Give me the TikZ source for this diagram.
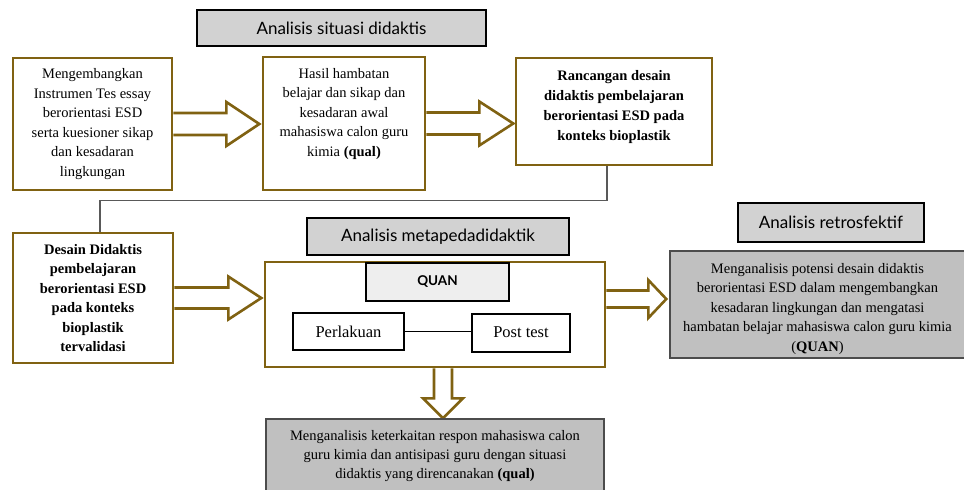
\documentclass[tikz,border=0pt]{standalone}
\usepackage{fontspec}
\setmainfont{Liberation Serif}
\newfontfamily\titlefont{Lato}
\usetikzlibrary{backgrounds}

\definecolor{goldline}{RGB}{128,98,18}
\definecolor{titlegray}{RGB}{210,210,210}
\definecolor{boxgray}{RGB}{192,192,192}
\definecolor{quangray}{RGB}{238,238,238}

% block arrows: start, body length, head length, body half, head half
\newcommand{\harrow}[5]{%
	\draw[blockarr] ([yshift=#4pt]#1) -- ++(#2,0) -- ++(0,#4-#5) -- ++(#3,#5)
	-- ++(-#3,#5) -- ++(0,#4-#5) -- ++(-#2,0);}
\newcommand{\varrow}[5]{%
	\draw[blockarr] ([xshift=-#4pt]#1) -- ++(0,#2) -- ++(#4-#5,0) -- ++(#5,#3)
	-- ++(#5,-#3) -- ++(#4-#5,0) -- ++(0,-#2);}

\begin{document}
\begin{tikzpicture}[x=1pt, y=-1pt,
	goldbox/.style={draw=goldline, line width=2.6pt, fill=white, align=center,
		inner sep=0pt, font=\fontsize{14.5}{19.5}\selectfont},
	titlebox/.style={draw=black, line width=2.6pt, fill=titlegray, inner sep=0pt,
		font=\titlefont\fontsize{17}{20}\selectfont},
	graybox/.style={draw=black!70, line width=1.4pt, fill=boxgray, align=center,
		inner sep=0pt, font=\fontsize{14.5}{19.5}\selectfont},
	smallbox/.style={draw=black, line width=2pt, fill=white, inner sep=0pt,
		font=\fontsize{16.5}{19}\selectfont},
	blockarr/.style={draw=goldline, line width=2.6pt, fill=white, line join=miter},
	linkline/.style={draw=black!65, line width=1.3pt}]
	\useasboundingbox (0,0) rectangle (964,490);
	
	% tahap 1
	\node[titlebox, minimum width=289, minimum height=36] (T1) at (341.5,28) {Analisis situasi didaktis};
	\node[goldbox, minimum width=159, minimum height=132] (A) at (92.5,124)
	{Mengembangkan\\ Instrumen Tes essay\\ berorientasi ESD\\ serta kuesioner sikap\\ dan kesadaran\\ lingkungan};
	\node[goldbox, minimum width=162, minimum height=133] (B) at (344,123.5)
	{Hasil hambatan\\ belajar dan sikap dan\\ kesadaran awal\\ mahasiswa calon guru\\ kimia \textbf{(qual)}\\[3pt]};
	\node[goldbox, minimum width=196, minimum height=107, font=\fontsize{14.5}{20}\selectfont\bfseries] (C) at (614,111.5)
	{Rancangan desain\\ didaktis pembelajaran\\ berorientasi ESD pada\\ konteks bioplastik\\[-7pt]};
	
	% tahap 2
	\node[goldbox, minimum width=160, minimum height=130, font=\fontsize{14.5}{19.5}\selectfont\bfseries] (D) at (93,298)
	{Desain Didaktis\\ pembelajaran\\ berorientasi ESD\\ pada konteks\\ bioplastik\\ tervalidasi};
	\node[titlebox, minimum width=262, minimum height=37] (T2) at (438,236.5) {Analisis metapedadidaktik};
	\node[goldbox, minimum width=340, minimum height=105] (E) at (435,314.5) {};
	\node[smallbox, fill=quangray, minimum width=143, minimum height=38,
	font=\titlefont\bfseries\fontsize{13.5}{15}\selectfont] (quan) at (437.5,282) {QUAN};
	\node[smallbox, minimum width=111, minimum height=37] (perl) at (348.5,331.5) {Perlakuan};
	\node[smallbox, minimum width=98, minimum height=38] (post) at (521,332.5) {Post test};
	\draw[line width=1pt] (perl.east) -- (perl.east -| post.west);
	
	% tahap 3
	\node[titlebox, minimum width=186, minimum height=39] (T3) at (831,222.5) {Analisis retrosfektif};
	\node[graybox, minimum width=295, minimum height=107] (F) at (817.5,304.5)
	{\rule{0pt}{19pt}Menganalisis potensi desain didaktis\\ berorientasi ESD dalam mengembangkan\\ kesadaran lingkungan dan mengatasi\\ hambatan belajar mahasiswa calon guru kimia\\ (\textbf{QUAN})};
	\node[graybox, minimum width=338, minimum height=74, font=\fontsize{14.5}{19}\selectfont] (G) at (435,456)
	{Menganalisis keterkaitan respon mahasiswa calon\\ guru kimia dan antisipasi guru dengan situasi\\ didaktis yang direncanakan \textbf{(qual)}};
	\coordinate (Eright) at ([yshift=15.5pt]E.east);
	\coordinate (Ebottom) at ([xshift=8pt]E.south);
	
	\begin{pgfonlayer}{background}
		\harrow{A.east}{53}{33}{11}{22}
		\harrow{B.east}{53}{34}{11}{22}
		\harrow{D.east}{54}{33}{10.5}{21.5}
		\harrow{Eright}{42}{18}{8.5}{19}
		\varrow{Ebottom}{30}{20}{9}{20}
		\draw[linkline] ([xshift=-7pt]C.south) -- ++(0,34) -| ([xshift=7pt]D.north);
	\end{pgfonlayer}
\end{tikzpicture}
\end{document}
